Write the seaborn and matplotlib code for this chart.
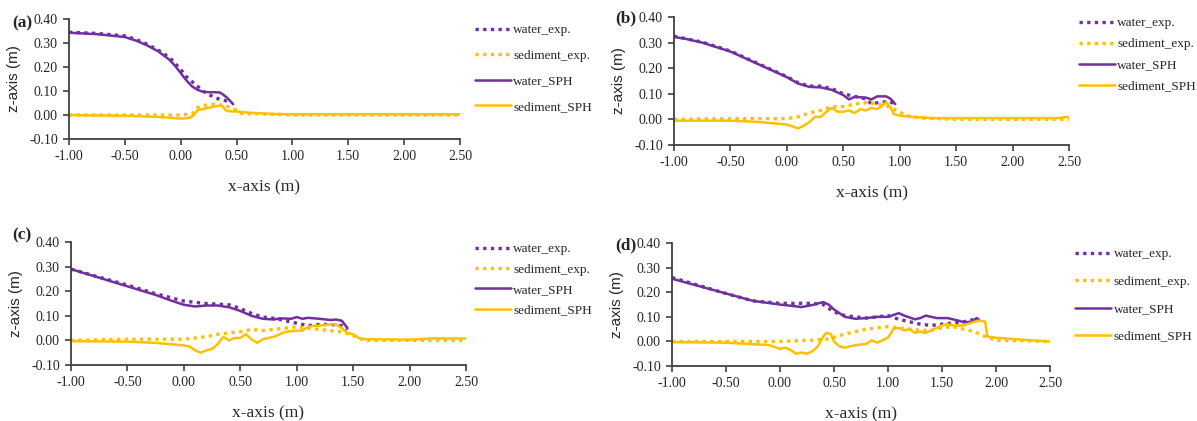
import matplotlib
matplotlib.use("Agg")
import matplotlib.pyplot as plt
import seaborn as sns

# ---- data (x in m, z in m) ----
# panel (a)
a_wexp_x = [-1.0, -0.75, -0.5, -0.4, -0.3, -0.2, -0.1, 0.0, 0.05, 0.1, 0.15, 0.2, 0.25, 0.3, 0.35, 0.4, 0.45]
a_wexp_y = [0.345, 0.340, 0.330, 0.315, 0.295, 0.270, 0.240, 0.190, 0.160, 0.140, 0.120, 0.100, 0.085, 0.075, 0.065, 0.060, 0.050]
a_sexp_x = [-1.0, -0.5, 0.0, 0.1, 0.15, 0.2, 0.3, 0.4, 0.5, 0.55, 0.7, 1.0, 2.5]
a_sexp_y = [0.0, 0.0, 0.0, 0.005, 0.030, 0.040, 0.045, 0.040, 0.020, 0.005, 0.005, 0.0, 0.0]
a_wsph_x = [-1.0, -0.75, -0.5, -0.4, -0.3, -0.2, -0.1, -0.05, 0.0, 0.05, 0.1, 0.15, 0.2, 0.25, 0.3, 0.35, 0.38, 0.42, 0.45, 0.47]
a_wsph_y = [0.343, 0.337, 0.325, 0.310, 0.290, 0.265, 0.230, 0.205, 0.175, 0.145, 0.120, 0.105, 0.097, 0.095, 0.095, 0.094, 0.085, 0.070, 0.055, 0.045]
a_ssph_x = [-1.0, -0.5, -0.2, 0.0, 0.08, 0.12, 0.15, 0.2, 0.25, 0.3, 0.35, 0.38, 0.4, 0.45, 0.5, 0.6, 0.8, 1.0, 2.5]
a_ssph_y = [0.0, -0.003, -0.008, -0.015, -0.012, 0.0, 0.020, 0.025, 0.030, 0.035, 0.040, 0.035, 0.020, 0.015, 0.015, 0.010, 0.005, 0.003, 0.003]

# panel (b)
b_wexp_x = [-1.0, -0.75, -0.5, -0.25, 0.0, 0.1, 0.2, 0.3, 0.4, 0.5, 0.6, 0.7, 0.75, 0.8, 0.9, 0.97]
b_wexp_y = [0.325, 0.302, 0.267, 0.217, 0.167, 0.143, 0.130, 0.130, 0.120, 0.100, 0.090, 0.080, 0.060, 0.065, 0.070, 0.060]
b_sexp_x = [-1.0, -0.5, 0.0, 0.1, 0.2, 0.3, 0.4, 0.5, 0.6, 0.7, 0.8, 0.9, 1.0, 1.05, 1.2, 1.5, 2.5]
b_sexp_y = [0.0, 0.003, 0.003, 0.010, 0.025, 0.035, 0.050, 0.050, 0.060, 0.065, 0.060, 0.050, 0.030, 0.015, 0.005, 0.0, 0.0]
b_wsph_x = [-1.0, -0.9, -0.75, -0.5, -0.25, 0.0, 0.1, 0.2, 0.3, 0.4, 0.5, 0.55, 0.6, 0.7, 0.75, 0.8, 0.88, 0.92, 0.96]
b_wsph_y = [0.322, 0.315, 0.300, 0.265, 0.215, 0.165, 0.140, 0.127, 0.125, 0.115, 0.095, 0.078, 0.088, 0.085, 0.078, 0.090, 0.090, 0.080, 0.060]
b_ssph_x = [-1.0, -0.5, -0.25, 0.0, 0.1, 0.15, 0.2, 0.25, 0.3, 0.35, 0.4, 0.45, 0.5, 0.55, 0.6, 0.65, 0.7, 0.75, 0.8, 0.85, 0.88, 0.92, 0.95, 1.0, 1.1, 1.3, 2.0, 2.4, 2.5]
b_ssph_y = [-0.005, -0.005, -0.010, -0.020, -0.035, -0.025, -0.010, 0.010, 0.010, 0.030, 0.045, 0.030, 0.030, 0.035, 0.025, 0.040, 0.035, 0.045, 0.040, 0.055, 0.068, 0.045, 0.020, 0.015, 0.010, 0.005, 0.005, 0.005, 0.010]

# panel (c)
c_wexp_x = [-1.0, -0.5, -0.25, 0.0, 0.2, 0.4, 0.5, 0.6, 0.7, 0.8, 0.9, 1.0, 1.1, 1.2, 1.3, 1.4, 1.45]
c_wexp_y = [0.290, 0.225, 0.190, 0.160, 0.150, 0.145, 0.130, 0.110, 0.095, 0.090, 0.080, 0.070, 0.060, 0.065, 0.065, 0.060, 0.045]
c_sexp_x = [-1.0, -0.5, 0.0, 0.2, 0.3, 0.5, 0.6, 0.7, 0.8, 0.9, 1.0, 1.1, 1.2, 1.3, 1.4, 1.5, 1.6, 2.5]
c_sexp_y = [0.0, 0.005, 0.005, 0.015, 0.025, 0.035, 0.045, 0.040, 0.045, 0.050, 0.055, 0.050, 0.045, 0.040, 0.035, 0.020, 0.0, 0.0]
c_wsph_x = [-1.0, -0.75, -0.5, -0.25, -0.1, 0.0, 0.1, 0.2, 0.3, 0.4, 0.5, 0.6, 0.7, 0.8, 0.85, 0.95, 1.0, 1.05, 1.1, 1.2, 1.3, 1.35, 1.4, 1.45]
c_wsph_y = [0.290, 0.255, 0.220, 0.185, 0.160, 0.145, 0.138, 0.142, 0.142, 0.135, 0.120, 0.100, 0.088, 0.085, 0.090, 0.088, 0.095, 0.088, 0.092, 0.088, 0.083, 0.085, 0.080, 0.050]
c_ssph_x = [-1.0, -0.5, -0.25, 0.0, 0.05, 0.1, 0.15, 0.2, 0.25, 0.3, 0.35, 0.4, 0.45, 0.5, 0.55, 0.6, 0.65, 0.7, 0.8, 0.9, 1.0, 1.05, 1.1, 1.15, 1.2, 1.3, 1.35, 1.4, 1.45, 1.5, 1.55, 1.6, 2.0, 2.2, 2.5]
c_ssph_y = [-0.003, -0.005, -0.010, -0.020, -0.025, -0.040, -0.050, -0.040, -0.035, -0.015, 0.015, 0.0, 0.010, 0.010, 0.025, 0.005, -0.010, 0.005, 0.015, 0.035, 0.040, 0.040, 0.055, 0.060, 0.060, 0.065, 0.065, 0.050, 0.030, 0.025, 0.010, 0.005, 0.003, 0.008, 0.008]

# panel (d)
d_wexp_x = [-1.0, -0.5, -0.25, 0.0, 0.3, 0.4, 0.5, 0.6, 0.7, 0.8, 0.9, 1.0, 1.1, 1.2, 1.3, 1.4, 1.5, 1.6, 1.7, 1.8]
d_wexp_y = [0.260, 0.195, 0.165, 0.155, 0.155, 0.150, 0.120, 0.105, 0.100, 0.095, 0.100, 0.105, 0.090, 0.080, 0.070, 0.065, 0.070, 0.075, 0.080, 0.090]
d_sexp_x = [-1.0, -0.5, 0.0, 0.3, 0.45, 0.6, 0.7, 0.8, 0.9, 1.0, 1.1, 1.2, 1.3, 1.4, 1.5, 1.6, 1.7, 1.8, 1.9, 2.0, 2.5]
d_sexp_y = [0.0, 0.0, 0.0, 0.005, 0.010, 0.030, 0.040, 0.050, 0.055, 0.060, 0.055, 0.050, 0.045, 0.045, 0.055, 0.060, 0.050, 0.040, 0.020, 0.005, 0.0]
d_wsph_x = [-1.0, -0.75, -0.5, -0.25, 0.0, 0.2, 0.3, 0.4, 0.45, 0.5, 0.6, 0.7, 0.8, 0.9, 1.0, 1.1, 1.15, 1.25, 1.3, 1.35, 1.45, 1.55, 1.65, 1.7, 1.78, 1.82, 1.84]
d_wsph_y = [0.255, 0.225, 0.195, 0.165, 0.150, 0.140, 0.148, 0.160, 0.150, 0.130, 0.100, 0.092, 0.095, 0.100, 0.100, 0.115, 0.105, 0.090, 0.095, 0.105, 0.095, 0.095, 0.085, 0.078, 0.080, 0.095, 0.090]
d_ssph_x = [-1.0, -0.5, -0.1, 0.0, 0.05, 0.1, 0.15, 0.2, 0.25, 0.3, 0.35, 0.4, 0.43, 0.47, 0.5, 0.55, 0.6, 0.7, 0.8, 0.85, 0.9, 0.95, 1.0, 1.05, 1.1, 1.15, 1.2, 1.25, 1.3, 1.35, 1.4, 1.5, 1.55, 1.6, 1.7, 1.8, 1.85, 1.9, 1.92, 2.0, 2.3, 2.5]
d_ssph_y = [-0.003, -0.005, -0.015, -0.030, -0.025, -0.035, -0.050, -0.045, -0.050, -0.040, -0.020, 0.020, 0.035, 0.030, 0.0, -0.020, -0.025, -0.015, -0.010, 0.005, -0.005, 0.005, 0.015, 0.050, 0.055, 0.045, 0.050, 0.035, 0.040, 0.035, 0.045, 0.065, 0.070, 0.065, 0.065, 0.080, 0.085, 0.080, 0.020, 0.015, 0.005, 0.0]

panels = {
    "(a)": (a_wexp_x, a_wexp_y, a_sexp_x, a_sexp_y, a_wsph_x, a_wsph_y, a_ssph_x, a_ssph_y),
    "(b)": (b_wexp_x, b_wexp_y, b_sexp_x, b_sexp_y, b_wsph_x, b_wsph_y, b_ssph_x, b_ssph_y),
    "(c)": (c_wexp_x, c_wexp_y, c_sexp_x, c_sexp_y, c_wsph_x, c_wsph_y, c_ssph_x, c_ssph_y),
    "(d)": (d_wexp_x, d_wexp_y, d_sexp_x, d_sexp_y, d_wsph_x, d_wsph_y, d_ssph_x, d_ssph_y),
}
series_names = ["water_exp.", "sediment_exp.", "water_SPH", "sediment_SPH"]
x_ticks = [-1.0, -0.5, 0.0, 0.5, 1.0, 1.5, 2.0, 2.5]
y_ticks = [-0.1, 0.0, 0.1, 0.2, 0.3, 0.4]

purple = "#7030A0"
orange = "#FFC000"
dot = (0, (1, 1.3))

sns.set_style("ticks")
plt.rcParams["font.family"] = ["Liberation Serif", "DejaVu Serif"]

fig = plt.figure(figsize=(11.97, 4.21), dpi=100)

# axes box [left, bottom, width, height], legend anchor, legend row spacing, panel letter position
layout = {
    "(a)": ([0.0576, 0.6698, 0.3267, 0.285], (0.3926, 0.955), 1.0, (0.010, 0.945)),
    "(b)": ([0.5631, 0.6556, 0.3300, 0.304], (0.8970, 0.972), 0.67, (0.514, 0.957)),
    "(c)": ([0.0593, 0.1330, 0.3300, 0.292], (0.3926, 0.435), 0.61, (0.010, 0.442)),
    "(d)": ([0.5614, 0.1306, 0.3158, 0.292], (0.8940, 0.423), 1.15, (0.514, 0.418)),
}

for name, data in panels.items():
    box, leg_pos, spacing, letter_pos = layout[name]
    ax = fig.add_axes(box)
    wx, wy, sx, sy, wsx, wsy, ssx, ssy = data
    sns.lineplot(x=wx, y=wy, ax=ax, color=purple, linestyle=dot, lw=2.4, label=series_names[0])
    sns.lineplot(x=sx, y=sy, ax=ax, color=orange, linestyle=dot, lw=2.4, label=series_names[1])
    sns.lineplot(x=wsx, y=wsy, ax=ax, color=purple, lw=1.8, label=series_names[2])
    sns.lineplot(x=ssx, y=ssy, ax=ax, color=orange, lw=1.8, label=series_names[3])

    ax.set_xlim(-1.0, 2.5)
    ax.set_ylim(-0.1, 0.4)
    ax.set_xticks(x_ticks)
    ax.set_yticks(y_ticks)
    ax.set_xticklabels([f"{v:.2f}" for v in x_ticks], fontsize=10)
    ax.set_yticklabels([f"{v:.2f}" for v in y_ticks], fontsize=10)
    ax.tick_params(direction="out", length=4, width=1.2, color="#404040", pad=4)
    for s in ["left", "bottom"]:
        ax.spines[s].set_color("#404040")
        ax.spines[s].set_linewidth(1.3)
    sns.despine(ax=ax)
    ax.set_xlabel("x-axis (m)", fontsize=12.5, labelpad=12)
    ax.set_ylabel("z-axis (m)", fontsize=11, family=["Liberation Sans", "DejaVu Sans"], labelpad=6)

    ax.legend(loc="upper left", bbox_to_anchor=leg_pos, bbox_transform=fig.transFigure,
              frameon=False, fontsize=9.5, handlelength=2.7, handletextpad=0.2,
              labelspacing=spacing, borderaxespad=0)
    fig.text(letter_pos[0], letter_pos[1], name, fontsize=12.5, fontweight="bold", va="center")

fig.savefig("out.png", dpi=100)
